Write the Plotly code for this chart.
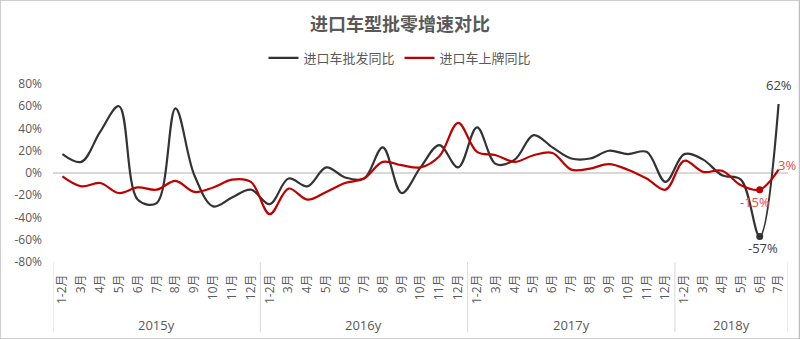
import plotly.graph_objects as go

years = ["2015y"] * 11 + ["2016y"] * 11 + ["2017y"] * 11 + ["2018y"] * 6
months_full = ["1-2月", "3月", "4月", "5月", "6月", "7月", "8月", "9月", "10月", "11月", "12月"]
months = months_full * 3 + months_full[:6]

wholesale = [17, 10, 37, 60, -24, -27, 58, -2, -30, -22, -15,
             -28, -5, -12, 5, -4, -5, 23, -18, 5, 25, 5,
             41, 8, 12, 34, 23, 13, 13, 20, 17, 19, -8,
             17, 12, -2, -6, -57, 62]
registration = [-3, -12, -9, -18, -13, -15, -7, -17, -13, -6, -8,
                -37, -14, -24, -17, -9, -5, 10, 7, 5, 15, 45,
                19, 16, 10, 16, 18, 3, 4, 8, 3, -5, -15,
                11, 1, 2, -11, -15, 3]

ytick_vals = [-80, -60, -40, -20, 0, 20, 40, 60, 80]
ytick_text = ["-80%", "-60%", "-40%", "-20%", "0%", "20%", "40%", "60%", "80%"]

BLACK = "#333333"
RED = "#C00000"
GRAY = "#595959"
n = len(months)
xi = list(range(n))

# plot-area geometry (pixels) used to express paper-relative offsets
PLOT_H = 339 - 84 - 77

fig = go.Figure()
fig.add_trace(go.Scatter(
    x=xi, y=wholesale, name="进口车批发同比", mode="lines",
    line=dict(color=BLACK, width=2.2, shape="spline", smoothing=1.0),
))
fig.add_trace(go.Scatter(
    x=xi, y=registration, name="进口车上牌同比", mode="lines",
    line=dict(color=RED, width=2.2, shape="spline", smoothing=1.0),
))

k = n - 2
fig.add_trace(go.Scatter(x=[k], y=[wholesale[k]], mode="markers",
                         marker=dict(size=7, color=BLACK), showlegend=False, hoverinfo="skip"))
fig.add_trace(go.Scatter(x=[k], y=[registration[k]], mode="markers",
                         marker=dict(size=7, color=RED), showlegend=False, hoverinfo="skip"))

label_specs = [
    (n - 1, wholesale[n - 1], "#404040", 0, 19),
    (n - 2, wholesale[n - 2], "#404040", 3, -12),
    (n - 2, registration[n - 2], "#E84C4C", -5, -12),
    (n - 1, registration[n - 1], "#E84C4C", 8, 5),
]
annotations = []
for idx, val, col, dx, dy in label_specs:
    annotations.append(dict(
        x=idx, y=val, xref="x", yref="y", text=f"{val}%", showarrow=False,
        xanchor="center", yanchor="middle", xshift=dx, yshift=dy,
        font=dict(size=13, color=col, family="Open Sans"),
    ))

# year groups: labels centred under each group, dividers at group edges
groups = []
for i, yv in enumerate(years):
    if not groups or groups[-1][0] != yv:
        groups.append([yv, i, i])
    else:
        groups[-1][2] = i

shapes = []
for name, a, b in groups:
    annotations.append(dict(
        x=(a + b) / 2, y=-(325 - 261.7) / PLOT_H, xref="x", yref="paper",
        text=name, showarrow=False, xanchor="center", yanchor="middle",
        font=dict(size=13, color=GRAY, family="Open Sans"),
    ))
    shapes.append(dict(type="line", xref="x", yref="paper", x0=a - 0.5, x1=a - 0.5,
                       y0=0, y1=-(332 - 261.7) / PLOT_H, line=dict(color="#D9D9D9", width=1)))
shapes.append(dict(type="line", xref="x", yref="paper", x0=n - 0.5, x1=n - 0.5,
                   y0=0, y1=-(332 - 261.7) / PLOT_H, line=dict(color="#D9D9D9", width=1)))
shapes.append(dict(type="rect", xref="paper", yref="paper", x0=-53 / 735, x1=1 + 11.5 / 735,
                   y0=-77 / PLOT_H, y1=1 + 84 / PLOT_H, line=dict(color="#BFBFBF", width=1.5)))

fig.update_layout(
    width=800, height=339,
    margin=dict(l=53, r=12, t=84, b=77, autoexpand=False),
    paper_bgcolor="white", plot_bgcolor="white",
    font=dict(family="Open Sans, Noto Sans CJK SC", color=GRAY, size=12),
    title=dict(text="<b>进口车型批零增速对比</b>", x=0.5, xanchor="center", xref="container",
               y=1 - 25 / 339, yanchor="middle",
               font=dict(size=18, color=GRAY, family="Noto Sans CJK SC")),
    legend=dict(orientation="h", x=0.5, xanchor="center", xref="container",
                y=1 - 58 / 339, yref="container", yanchor="middle",
                font=dict(size=13, color=GRAY, family="Noto Sans CJK SC")),
    showlegend=True,
    annotations=annotations,
    shapes=shapes,
)
fig.update_xaxes(
    range=[-0.5, n - 0.5], tickvals=xi, ticktext=months, tickangle=-90,
    showgrid=False, showline=False, zeroline=False,
    tickfont=dict(size=12, color=GRAY, family="Open Sans, Noto Sans CJK SC"),
    ticks="", ticklabelstandoff=9, automargin=False,
)
fig.update_yaxes(
    range=[-80, 80], tickvals=ytick_vals, ticktext=ytick_text,
    showgrid=False, zeroline=True, zerolinecolor="#D9D9D9", zerolinewidth=1.5,
    showline=False, ticklabelstandoff=10, automargin=False,
    tickfont=dict(size=12, color=GRAY, family="Open Sans"),
)

fig.write_html("out.html")
